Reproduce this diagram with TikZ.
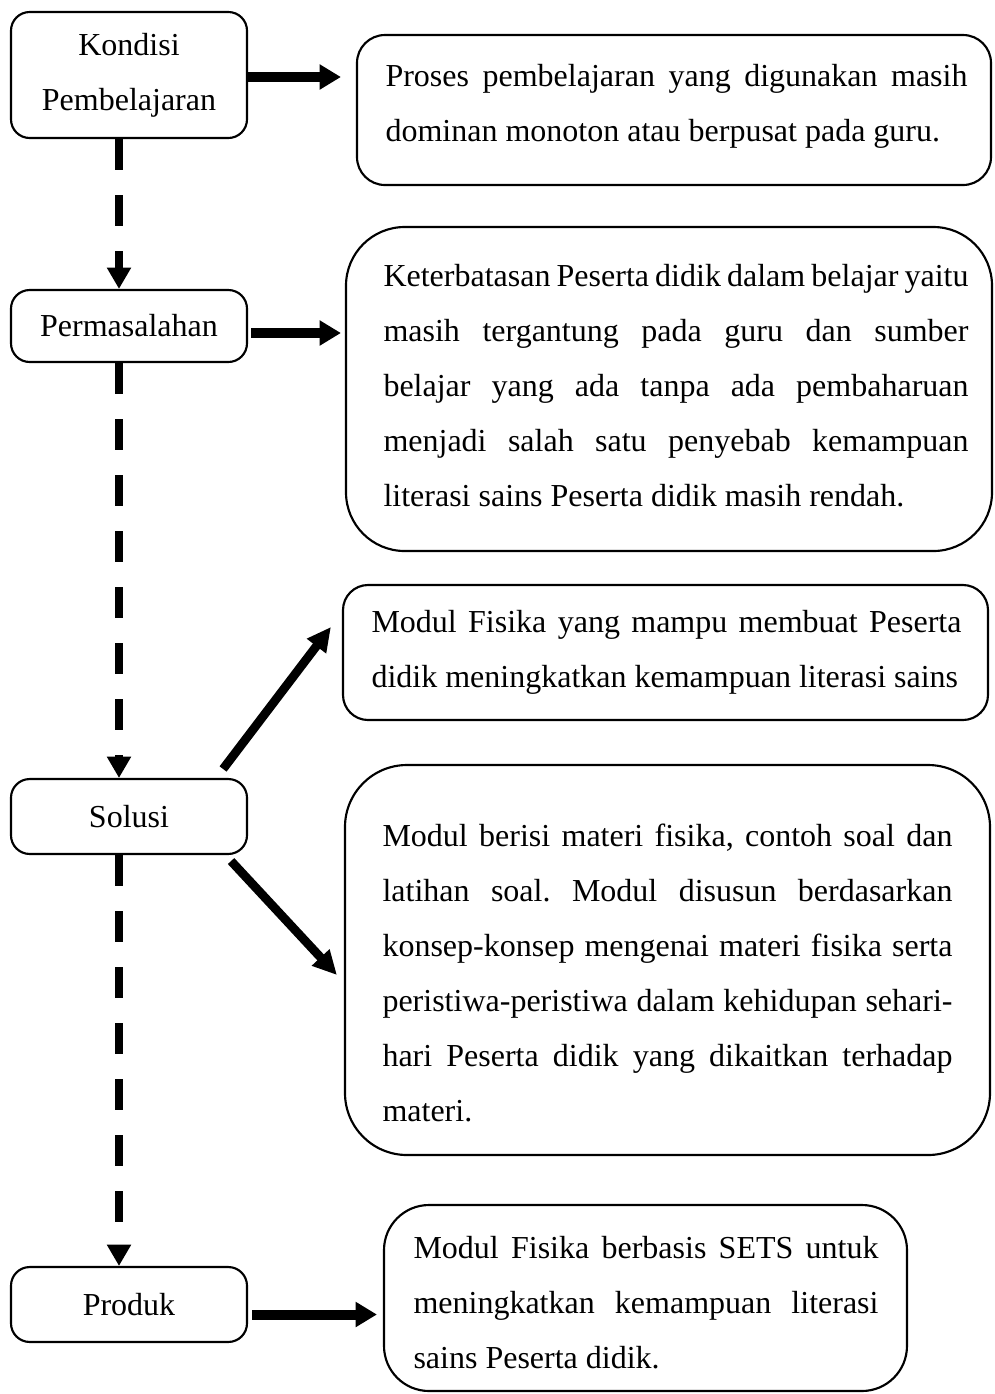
\documentclass[tikz,border=0pt]{standalone}
\usepackage{fontspec}
\setmainfont{Liberation Serif}
\usetikzlibrary{arrows.meta,calc}
\newdimen\pxu \pxu=0.375pt
\newcommand\jl[2]{\makebox[#1\pxu][s]{#2}}
\begin{document}
\begin{tikzpicture}[x=0.375pt,y=-0.375pt,
  every node/.style={font=\fontsize{12}{20.625}\selectfont\frenchspacing},
  lbox/.style={draw, line width=0.8pt, inner sep=0pt, align=center,
    minimum width=88.5pt, rounded corners=7pt},
  rbox/.style={draw, line width=0.8pt, inner sep=0pt},
  txt/.style={anchor=north west, inner sep=0pt, align=left},
  harrow/.style={line width=3.75pt, -{Triangle[length=8pt,width=9pt]}},
  diag/.style={line width=3.3pt, -{Triangle[length=9pt,width=8.5pt]}},
  dasharrow/.style={line width=3pt, dash pattern=on 11.6pt off 9.4pt,
    -{Triangle[length=8pt,width=8.6pt]}}
]
\path[use as bounding box, fill=white] (0,0) rectangle (994,1394);

% left column
\node[lbox, minimum height=47.25pt] (kon) at (129,75) {Kondisi\\Pembelajaran};
\node[lbox, minimum height=27pt] (per) at (129,326) {Permasalahan};
\node[lbox, minimum height=28.1pt] (sol) at (129,816.5) {Solusi};
\node[lbox, minimum height=28.1pt] (pro) at (129,1304.5) {Produk};

% right boxes
\node[rbox, minimum width=237.75pt, minimum height=56.25pt, rounded corners=10.5pt] (b1) at (674,110) {};
\node[rbox, minimum width=242.25pt, minimum height=121.5pt, rounded corners=22pt] (b2) at (669,389) {};
\node[rbox, minimum width=241.875pt, minimum height=50.625pt, rounded corners=9.4pt] (b3) at (665.5,652.5) {};
\node[rbox, minimum width=241.875pt, minimum height=146.25pt, rounded corners=23.25pt] (b4) at (667.5,960) {};
\node[rbox, minimum width=196.125pt, minimum height=69.75pt, rounded corners=16.9pt] (b5) at (645.5,1298) {};

% texts
\node[txt] (t1) at (385,64) {\jl{582}{Proses pembelajaran yang digunakan masih}\\
dominan monoton atau berpusat pada guru.};
\node[txt] (t2) at (383,264) {\jl{585}{Keterbatasan Peserta didik dalam belajar yaitu}\\
\jl{585}{masih tergantung pada guru dan sumber}\\
\jl{585}{belajar yang ada tanpa ada pembaharuan}\\
\jl{585}{menjadi salah satu penyebab kemampuan}\\
literasi sains Peserta didik masih rendah.};
\node[txt] (t3) at (371,610) {\jl{590}{Modul Fisika yang mampu membuat Peserta}\\
didik meningkatkan kemampuan literasi sains};
\node[txt] (t4) at (382,823) {\jl{570}{Modul berisi materi fisika, contoh soal dan}\\
\jl{570}{latihan soal. Modul disusun berdasarkan}\\
\jl{570}{konsep-konsep mengenai materi fisika serta}\\
\jl{570}{peristiwa-peristiwa dalam kehidupan sehari-}\\
\jl{570}{hari Peserta didik yang dikaitkan terhadap}\\
materi.};
\node[txt] (t5) at (413,1236) {\jl{465}{Modul Fisika berbasis SETS untuk}\\
\jl{465}{meningkatkan kemampuan literasi}\\
sains Peserta didik.};

% dashed vertical connectors
\coordinate (vx) at (119,0);
\draw[dasharrow] (kon.south -| vx) -- (per.north -| vx);
\draw[dasharrow] (per.south -| vx) -- (sol.north -| vx);
\draw[dasharrow] (sol.south -| vx) -- (pro.north -| vx);

% horizontal arrows
\draw[harrow] ($(kon.east)+(0,2)$) -- ($(b1.west |- kon.east)+(-15,2)$);
\draw[harrow] ($(per.east)+(3,7)$) -- ($(b2.west |- per.east)+(-4,7)$);
\draw[harrow] ($(pro.east)+(4,10)$) -- ($(b5.west |- pro.east)+(-6,10)$);

% diagonal arrows
\draw[diag] ($(sol.north east)+(-25,-9)$) -- ($(b3.west)+(-11,-25.5)$);
\draw[diag] ($(sol.south east)+(-17,6)$) -- ($(b4.west)+(-7,15)$);
\end{tikzpicture}
\end{document}
